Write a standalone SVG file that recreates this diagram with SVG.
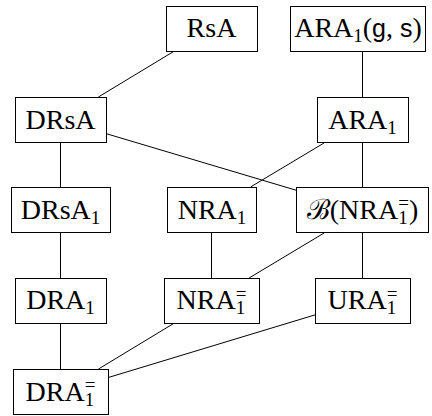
<svg xmlns="http://www.w3.org/2000/svg" width="432" height="416" viewBox="0 0 432 416">
<style>
.box{fill:#fff;stroke:#000;stroke-width:1}
.edge{stroke:#000;stroke-width:1;fill:none}
text{font-family:"Liberation Serif","DejaVu Serif",serif;font-size:28px;fill:#000;text-anchor:middle}
.sub{font-size:19px}
.sf{font-family:"Liberation Sans","DejaVu Sans",sans-serif;font-size:25px}
</style>
<rect width="432" height="416" fill="#fff"/>
<g id="connectors">
<line class="edge" x1="174.4" y1="51" x2="98.4" y2="97"/>
<line class="edge" x1="362.5" y1="51" x2="362.5" y2="97"/>
<line class="edge" x1="60.5" y1="143" x2="60.5" y2="187"/>
<line class="edge" x1="106" y1="133.6" x2="296" y2="190.2"/>
<line class="edge" x1="324" y1="143" x2="250.5" y2="187"/>
<line class="edge" x1="362.5" y1="143" x2="362.5" y2="187"/>
<line class="edge" x1="60.5" y1="233" x2="60.5" y2="278"/>
<line class="edge" x1="211.5" y1="233" x2="211.5" y2="278"/>
<line class="edge" x1="324.1" y1="233" x2="249.1" y2="278"/>
<line class="edge" x1="362.5" y1="233" x2="362.5" y2="278"/>
<line class="edge" x1="60.5" y1="323" x2="60.5" y2="369"/>
<line class="edge" x1="174.4" y1="323" x2="98.5" y2="369"/>
<line class="edge" x1="315" y1="314.9" x2="108" y2="377.6"/>
</g>
<g id="RsA">
<rect class="box" x="166.5" y="6.5" width="91" height="45"/>
<text x="211.5" y="37">RsA</text>
</g>
<g id="ARA1gs">
<rect class="box" x="290.5" y="6.5" width="135" height="45"/>
<text x="358" y="37">ARA<tspan class="sub" dy="5">1</tspan><tspan dy="-5">(</tspan><tspan class="sf">g</tspan>, <tspan class="sf">s</tspan>)</text>
</g>
<g id="DRsA">
<rect class="box" x="15.5" y="97.5" width="91" height="45"/>
<text x="60.5" y="128.5">DRsA</text>
</g>
<g id="ARA1">
<rect class="box" x="317.5" y="97.5" width="91" height="45"/>
<text x="362.5" y="128.5">ARA<tspan class="sub" dy="5">1</tspan></text>
</g>
<g id="DRsA1">
<rect class="box" x="11.5" y="187.5" width="99" height="45"/>
<text x="60.5" y="218.5">DRsA<tspan class="sub" dy="5">1</tspan></text>
</g>
<g id="NRA1">
<rect class="box" x="167.5" y="187.5" width="89" height="45"/>
<text x="212" y="218.5">NRA<tspan class="sub" dy="5">1</tspan></text>
</g>
<g id="BNRA1eq">
<rect class="box" x="296.5" y="187.5" width="132" height="45"/>
<text x="362.5" y="218.5">ℬ(NRA<tspan class="sub" dy="5">1</tspan><tspan class="sub" dx="-9.5" dy="-14.5">=</tspan><tspan dy="9.5">)</tspan></text>
</g>
<g id="DRA1">
<rect class="box" x="15.5" y="278.5" width="91" height="45"/>
<text x="60.5" y="309">DRA<tspan class="sub" dy="5">1</tspan></text>
</g>
<g id="NRA1eq">
<rect class="box" x="164.5" y="278.5" width="95" height="45"/>
<text x="211.5" y="309">NRA<tspan class="sub" dy="5">1</tspan><tspan class="sub" dx="-9.5" dy="-14.5">=</tspan></text>
</g>
<g id="URA1eq">
<rect class="box" x="315.5" y="278.5" width="95" height="45"/>
<text x="362.5" y="309">URA<tspan class="sub" dy="5">1</tspan><tspan class="sub" dx="-9.5" dy="-14.5">=</tspan></text>
</g>
<g id="DRA1eq">
<rect class="box" x="13.5" y="369.5" width="95" height="45"/>
<text x="60.5" y="400.5">DRA<tspan class="sub" dy="5">1</tspan><tspan class="sub" dx="-9.5" dy="-14.5">=</tspan></text>
</g>
</svg>
